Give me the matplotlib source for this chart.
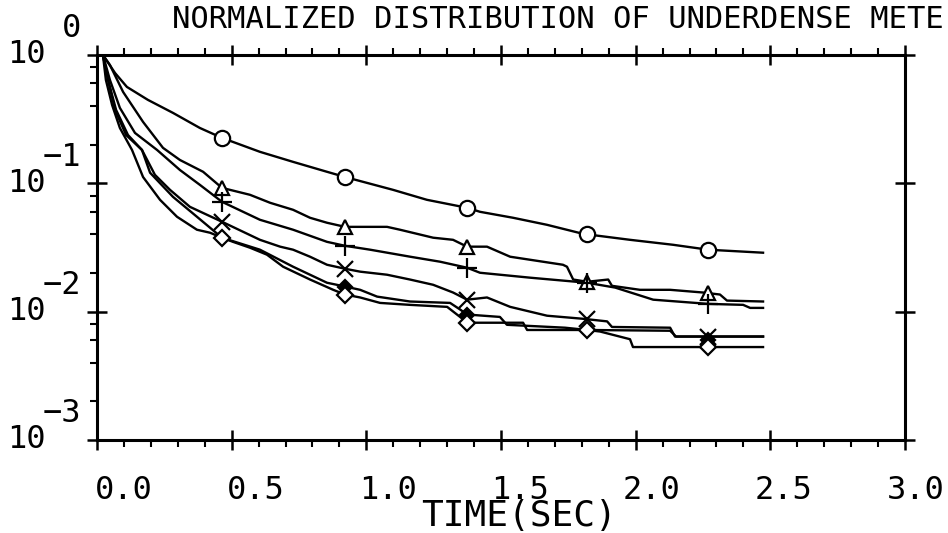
import matplotlib
matplotlib.use('Agg')
import matplotlib.pyplot as plt
import matplotlib.transforms as mtransforms
from matplotlib.ticker import MultipleLocator, FixedLocator, NullFormatter

plt.rcParams['font.family'] = ['DejaVu Sans Mono', 'DejaVu Sans']

# ---------------- data (time in s, normalized distribution) ----------------
marker_t = [0.464, 0.921, 1.374, 1.820, 2.269]

circle_t = [0, 0.022, 0.067, 0.111, 0.189, 0.282, 0.382, 0.464, 0.605, 0.728, 0.854, 0.921,
            1.099, 1.225, 1.374, 1.422, 1.545, 1.671, 1.805, 1.979, 2.139, 2.269, 2.473]
circle_v = [1.0, 1.0, 0.724, 0.564, 0.447, 0.354, 0.270, 0.226, 0.176, 0.147, 0.123, 0.112,
            0.089, 0.0744, 0.0645, 0.060, 0.0539, 0.0475, 0.0404, 0.0363, 0.0332, 0.0304, 0.0288]
circle_m = [0.226, 0.112, 0.0645, 0.0404, 0.0304]

tri_t = [0, 0.022, 0.048, 0.097, 0.171, 0.245, 0.308, 0.394, 0.464, 0.568, 0.643, 0.728, 0.791,
         0.854, 0.921, 1.077, 1.125, 1.248, 1.322, 1.374, 1.448, 1.534, 1.730, 1.745, 1.768,
         1.820, 1.898, 1.912, 2.016, 2.128, 2.250, 2.313, 2.339, 2.473]
tri_v = [1.0, 1.0, 0.836, 0.515, 0.301, 0.189, 0.152, 0.123, 0.0922, 0.0814, 0.0705, 0.0622,
         0.0539, 0.0493, 0.0458, 0.0458, 0.0435, 0.0377, 0.0363, 0.0321, 0.0321, 0.0268, 0.0232,
         0.0224, 0.0178, 0.0171, 0.0178, 0.0159, 0.0148, 0.0148, 0.0141, 0.0136, 0.0122, 0.0120]
tri_m = [0.0922, 0.0458, 0.0321, 0.0171, 0.0139]

plus_t = [0, 0.022, 0.048, 0.085, 0.141, 0.223, 0.308, 0.382, 0.464, 0.605, 0.728, 0.854, 0.921,
          1.014, 1.163, 1.274, 1.374, 1.422, 1.608, 1.820, 1.924, 2.065, 2.269, 2.399, 2.425, 2.473]
plus_v = [1.0, 1.0, 0.639, 0.387, 0.247, 0.182, 0.127, 0.0973, 0.0718, 0.0520, 0.0435, 0.0350,
          0.0326, 0.0304, 0.0268, 0.0245, 0.0220, 0.0201, 0.0184, 0.0168, 0.0154, 0.0124, 0.0115,
          0.0113, 0.0107, 0.0107]
plus_m = [0.0718, 0.0326, 0.0220, 0.0168, 0.0115]

x_t = [0, 0.022, 0.041, 0.071, 0.115, 0.167, 0.215, 0.271, 0.345, 0.464, 0.605, 0.680, 0.728,
       0.791, 0.854, 0.921, 0.977, 1.077, 1.162, 1.248, 1.322, 1.374, 1.448, 1.534, 1.671, 1.805,
       1.894, 1.912, 2.128, 2.146, 2.473]
x_v = [1.0, 1.0, 0.639, 0.373, 0.238, 0.182, 0.1165, 0.089, 0.0656, 0.0502, 0.0363, 0.0321,
       0.0304, 0.0268, 0.0232, 0.0216, 0.0205, 0.0194, 0.0178, 0.0162, 0.0141, 0.0124, 0.0129,
       0.0109, 0.0093, 0.0088, 0.0084, 0.0076, 0.0075, 0.0064, 0.0064]
x_m = [0.0502, 0.0216, 0.0124, 0.0087, 0.0064]

fill_t = [0, 0.022, 0.033, 0.056, 0.085, 0.130, 0.171, 0.234, 0.297, 0.371, 0.420, 0.464, 0.605,
          0.728, 0.854, 0.921, 0.977, 1.040, 1.162, 1.311, 1.348, 1.374, 1.496, 1.522, 1.738,
          1.820, 2.128, 2.150, 2.473]
fill_v = [1.0, 1.0, 0.639, 0.408, 0.270, 0.182, 0.112, 0.0744, 0.0549, 0.0435, 0.0412, 0.0377,
          0.0304, 0.0224, 0.0168, 0.0157, 0.0148, 0.0131, 0.0120, 0.0117, 0.0104, 0.0095, 0.0091,
          0.0079, 0.0075, 0.0072, 0.0071, 0.0064, 0.0064]
fill_m = [0.0377, 0.0157, 0.0095, 0.0072, 0.0060]

dia_t = [0, 0.022, 0.041, 0.067, 0.108, 0.167, 0.197, 0.282, 0.371, 0.464, 0.505, 0.568, 0.631,
         0.691, 0.791, 0.877, 0.921, 0.977, 1.051, 1.162, 1.300, 1.348, 1.374, 1.582, 1.597,
         1.820, 1.868, 1.979, 1.990, 2.269, 2.473]
dia_v = [1.0, 1.0, 0.639, 0.373, 0.238, 0.182, 0.121, 0.0785, 0.0549, 0.0377, 0.0350, 0.0315,
         0.0278, 0.0224, 0.0178, 0.0148, 0.0136, 0.0129, 0.0117, 0.0113, 0.0109, 0.0091, 0.0082,
         0.0082, 0.0072, 0.0072, 0.0070, 0.0061, 0.0053, 0.0053, 0.0053]
dia_m = [0.0377, 0.0136, 0.0082, 0.0072, 0.0053]

x_ticks = [0.0, 0.5, 1.0, 1.5, 2.0, 2.5, 3.0]
y_exponents = [0, -1, -2, -3]
title = "NORMALIZED DISTRIBUTION OF UNDERDENSE METE"
xlabel = "TIME(SEC)"

# ---------------- figure ----------------
fig = plt.figure(figsize=(9.48, 5.33), dpi=100)
ax = fig.add_axes([97 / 948, 1 - 440 / 533, (905 - 97) / 948, (440 - 55) / 533])
ax.set_yscale('log')
ax.set_xlim(0, 3)
ax.set_ylim(1e-3, 1)

series = [
    (circle_t, circle_v, circle_m, dict(marker='o', ms=11, mfc='white')),
    (tri_t, tri_v, tri_m, dict(marker='^', ms=10, mfc='white')),
    (plus_t, plus_v, plus_m, dict(marker='+', ms=14)),
    (x_t, x_v, x_m, dict(marker='x', ms=12)),
    (fill_t, fill_v, fill_m, dict(marker='D', ms=7, mfc='black')),
    (dia_t, dia_v, dia_m, dict(marker='D', ms=8, mfc='white')),
]
for t, v, m, mk in series:
    ax.plot(t, v, color='black', lw=1.7, solid_joinstyle='round', zorder=2)
for t, v, m, mk in series:
    ax.plot(marker_t, m, linestyle='none', mec='black', mew=1.6, color='black', zorder=3, **mk)

for s in ax.spines.values():
    s.set_linewidth(2.2)

ax.xaxis.set_major_locator(FixedLocator(x_ticks))
ax.xaxis.set_minor_locator(MultipleLocator(0.1))
ax.yaxis.set_major_locator(FixedLocator([10.0 ** e for e in y_exponents]))
ax.yaxis.set_minor_locator(FixedLocator([mm * 10.0 ** e for e in (-3, -2, -1) for mm in (2, 4, 6, 8)]))
ax.xaxis.set_minor_formatter(NullFormatter())
ax.yaxis.set_minor_formatter(NullFormatter())

ax.tick_params(axis='x', which='major', direction='inout', length=15, width=1.8,
               top=True, bottom=True, labelbottom=False)
ax.tick_params(axis='x', which='minor', direction='out', length=5, width=1.5, top=True, bottom=True)
ax.tick_params(axis='y', which='major', direction='inout', length=15, width=1.8,
               left=True, right=True, labelleft=False)
ax.tick_params(axis='y', which='minor', direction='out', length=5, width=1.5, left=True, right=False)

# x tick labels (plotter style, drawn just right of each tick)
xt_base = mtransforms.blended_transform_factory(ax.transData, fig.transFigure)
for v in x_ticks:
    shift = (27 - 5.5 * v) / 100
    tr = xt_base + mtransforms.ScaledTranslation(shift, 0, fig.dpi_scale_trans)
    ax.text(v, 1 - 499 / 533, f"{v:.1f}", transform=tr, ha='center', va='baseline',
            fontsize=23, clip_on=False)

# y tick labels: "10" with full-size exponent
yt_trans = mtransforms.blended_transform_factory(fig.transFigure, ax.transData)
exp_trans = yt_trans + mtransforms.ScaledTranslation(0, 26 / 100, fig.dpi_scale_trans)
for e in y_exponents:
    ax.text(46 / 948, 10.0 ** e, "10", transform=yt_trans, ha='right', va='center',
            fontsize=23, clip_on=False)
    ax.text(81 / 948, 10.0 ** e, str(e).replace('-', '\u2212'), transform=exp_trans,
            ha='right', va='center', fontsize=23, clip_on=False)

fig.text(172 / 948, 1 - 20 / 533, title, ha='left', va='center', fontsize=22)
fig.text(519 / 948, 0.0, xlabel, ha='center', va='bottom', fontsize=26)

fig.savefig('out.png', dpi=100)
